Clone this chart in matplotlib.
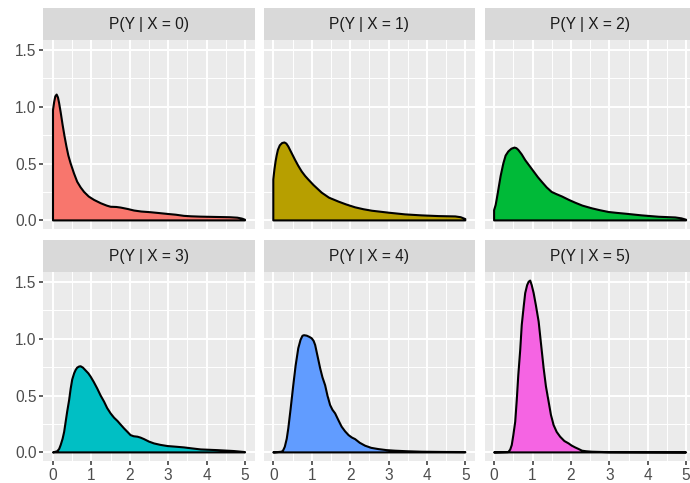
import matplotlib
matplotlib.use("Agg")
import matplotlib.pyplot as plt
import numpy as np

plt.rcParams['font.family'] = ['Liberation Sans', 'DejaVu Sans']

titles = ["P(Y | X = 0)", "P(Y | X = 1)", "P(Y | X = 2)",
          "P(Y | X = 3)", "P(Y | X = 4)", "P(Y | X = 5)"]
colors = ["#F8766D", "#B79F00", "#00BA38", "#00BFC4", "#619CFF", "#F564E3"]

# density curves (y value, density)
y0 = [0.0, 0.03, 0.06, 0.095, 0.13, 0.16, 0.2, 0.25, 0.3, 0.35, 0.4, 0.46, 0.55, 0.63, 0.72, 0.81, 0.93,
      1.07, 1.25, 1.4, 1.5, 1.65, 1.76, 1.95, 2.11, 2.3, 2.54, 2.75, 2.98, 3.2, 3.41, 3.6, 3.85, 4.28, 4.6,
      4.8, 4.92, 5.0]
d0 = [0.97, 1.04, 1.09, 1.106, 1.08, 1.03, 0.95, 0.84, 0.74, 0.65, 0.57, 0.50, 0.41, 0.34, 0.29, 0.25, 0.21,
      0.18, 0.15, 0.13, 0.12, 0.118, 0.113, 0.10, 0.087, 0.078, 0.072, 0.065, 0.057, 0.05, 0.04, 0.036, 0.033,
      0.03, 0.028, 0.024, 0.016, 0.006]

y1 = [0.0, 0.03, 0.06, 0.087, 0.12, 0.17, 0.23, 0.29, 0.34, 0.39, 0.48, 0.57, 0.65, 0.74, 0.83, 0.91, 1.05,
      1.26, 1.45, 1.70, 1.9, 2.13, 2.35, 2.57, 3.0, 3.43, 3.87, 4.30, 4.74, 4.88, 5.0]
d1 = [0.36, 0.45, 0.52, 0.57, 0.62, 0.66, 0.68, 0.685, 0.675, 0.65, 0.59, 0.53, 0.48, 0.43, 0.39, 0.36, 0.31,
      0.244, 0.2, 0.165, 0.14, 0.115, 0.098, 0.085, 0.068, 0.053, 0.044, 0.038, 0.035, 0.028, 0.012]

y2 = [0.0, 0.04, 0.07, 0.11, 0.17, 0.24, 0.30, 0.37, 0.45, 0.53, 0.58, 0.63, 0.72, 0.81, 0.92, 1.03, 1.14,
      1.24, 1.37, 1.50, 1.63, 1.77, 1.95, 2.11, 2.3, 2.55, 2.75, 2.98, 3.2, 3.42, 3.85, 4.29, 4.72, 4.88, 5.0]
d2 = [0.09, 0.135, 0.19, 0.27, 0.39, 0.50, 0.57, 0.606, 0.63, 0.64, 0.635, 0.62, 0.58, 0.53, 0.48, 0.43, 0.38,
      0.34, 0.29, 0.25, 0.23, 0.21, 0.18, 0.156, 0.13, 0.106, 0.09, 0.074, 0.066, 0.059, 0.044, 0.032, 0.026,
      0.018, 0.006]

y3 = [0.0, 0.11, 0.16, 0.2, 0.25, 0.29, 0.33, 0.37, 0.42, 0.46, 0.5, 0.55, 0.59, 0.63, 0.68, 0.72, 0.78,
      0.85, 0.92, 0.98, 1.06, 1.15, 1.24, 1.33, 1.41, 1.50, 1.59, 1.68, 1.76, 1.85, 1.94, 2.02, 2.10, 2.20,
      2.28, 2.37, 2.50, 2.63, 2.8, 2.98, 3.2, 3.41, 3.6, 3.85, 4.28, 4.71, 5.0]
d3 = [0.0, 0.01, 0.03, 0.065, 0.12, 0.18, 0.27, 0.36, 0.46, 0.56, 0.64, 0.695, 0.725, 0.745, 0.755, 0.757,
      0.745, 0.72, 0.695, 0.666, 0.62, 0.563, 0.5, 0.446, 0.39, 0.343, 0.305, 0.276, 0.245, 0.211, 0.18,
      0.152, 0.142, 0.138, 0.13, 0.117, 0.095, 0.079, 0.066, 0.056, 0.05, 0.044, 0.036, 0.026, 0.02, 0.012,
      0.003]

y4 = [0.0, 0.22, 0.26, 0.30, 0.35, 0.39, 0.45, 0.52, 0.58, 0.65, 0.71, 0.76, 0.80, 0.87, 0.94, 1.0, 1.05,
      1.09, 1.15, 1.22, 1.28, 1.35, 1.41, 1.48, 1.54, 1.61, 1.70, 1.78, 1.87, 1.96, 2.05, 2.13, 2.25, 2.39,
      2.55, 2.74, 2.95, 3.17, 3.5, 3.87, 4.4, 5.0]
d4 = [0.0, 0.006, 0.02, 0.05, 0.12, 0.21, 0.38, 0.59, 0.76, 0.915, 0.99, 1.025, 1.03, 1.026, 1.015, 1.003,
      0.98, 0.944, 0.85, 0.74, 0.66, 0.59, 0.50, 0.416, 0.375, 0.343, 0.28, 0.226, 0.185, 0.152, 0.13, 0.117,
      0.085, 0.059, 0.04, 0.029, 0.02, 0.015, 0.01, 0.006, 0.004, 0.003]

y5 = [0.0, 0.37, 0.42, 0.46, 0.50, 0.55, 0.59, 0.63, 0.68, 0.72, 0.77, 0.81, 0.86, 0.90, 0.94, 0.98, 1.03,
      1.09, 1.16, 1.22, 1.29, 1.35, 1.42, 1.48, 1.55, 1.63, 1.72, 1.83, 1.94, 2.02, 2.11, 2.2, 2.29, 2.4,
      2.55, 3.0, 5.0]
d5 = [0.0, 0.003, 0.025, 0.065, 0.15, 0.27, 0.46, 0.68, 0.9, 1.12, 1.28, 1.40, 1.47, 1.50, 1.51, 1.47, 1.40,
      1.29, 1.15, 0.96, 0.74, 0.58, 0.446, 0.33, 0.24, 0.18, 0.138, 0.10, 0.079, 0.06, 0.044, 0.03, 0.015,
      0.01, 0.006, 0.002, 0.0]

xs = [y0, y1, y2, y3, y4, y5]
ds = [d0, d1, d2, d3, d4, d5]

x_ticks = [0, 1, 2, 3, 4, 5]
y_ticks = [0.0, 0.5, 1.0, 1.5]
y_ticklabels = ["0.0", "0.5", "1.0", "1.5"]

W, H = 690, 483
fig = plt.figure(figsize=(W / 100, H / 100), dpi=100)
fig.patch.set_facecolor("white")

col_left = [43.4, 263.7, 484.5]
panel_w = 211.2
rows = [(8, 40, 229), (240, 272, 461)]  # strip top, panel top, panel bottom

dmax = max(max(d) for d in ds)
ylo, yhi = -0.05 * dmax, dmax * 1.05

for i in range(6):
    r, c = divmod(i, 3)
    st, pt, pb = rows[r]
    left = col_left[c]
    ax = fig.add_axes([left / W, 1 - pb / H, panel_w / W, (pb - pt) / H])
    ax.set_facecolor("#EBEBEB")
    for s in ax.spines.values():
        s.set_visible(False)
    ax.set_xlim(-0.25, 5.25)
    ax.set_ylim(ylo, yhi)
    ax.set_xticks(x_ticks)
    ax.set_xticks([0.5, 1.5, 2.5, 3.5, 4.5], minor=True)
    ax.set_yticks(y_ticks)
    ax.set_yticks([0.25, 0.75, 1.25], minor=True)
    ax.grid(True, which="major", color="white", linewidth=1.4)
    ax.grid(True, which="minor", color="white", linewidth=0.7)
    ax.set_axisbelow(True)
    ax.tick_params(which="minor", length=0)
    ax.tick_params(which="major", length=3.2, width=1.1, color="#333333",
                   labelsize=11.2, labelcolor="#4D4D4D", pad=1.8)
    if c == 0:
        ax.set_yticklabels(y_ticklabels)
    else:
        ax.tick_params(axis="y", which="major", length=0, labelleft=False)
    if r == 1:
        ax.set_xticklabels([str(t) for t in x_ticks])
    else:
        ax.tick_params(axis="x", which="major", length=0, labelbottom=False)

    px = [xs[i][0]] + list(xs[i]) + [xs[i][-1]]
    py = [0.0] + list(ds[i]) + [0.0]
    ax.fill(px, py, facecolor=colors[i], edgecolor="black", linewidth=1.5,
            joinstyle="round", zorder=3)

    sax = fig.add_axes([left / W, 1 - pt / H, panel_w / W, (pt - st) / H])
    sax.set_facecolor("#D9D9D9")
    sax.set_xticks([])
    sax.set_yticks([])
    for s in sax.spines.values():
        s.set_visible(False)
    sax.text(0.5, 0.5, titles[i], ha="center", va="center",
             fontsize=11.2, color="#1A1A1A", transform=sax.transAxes)

fig.savefig("out.png", dpi=100)
